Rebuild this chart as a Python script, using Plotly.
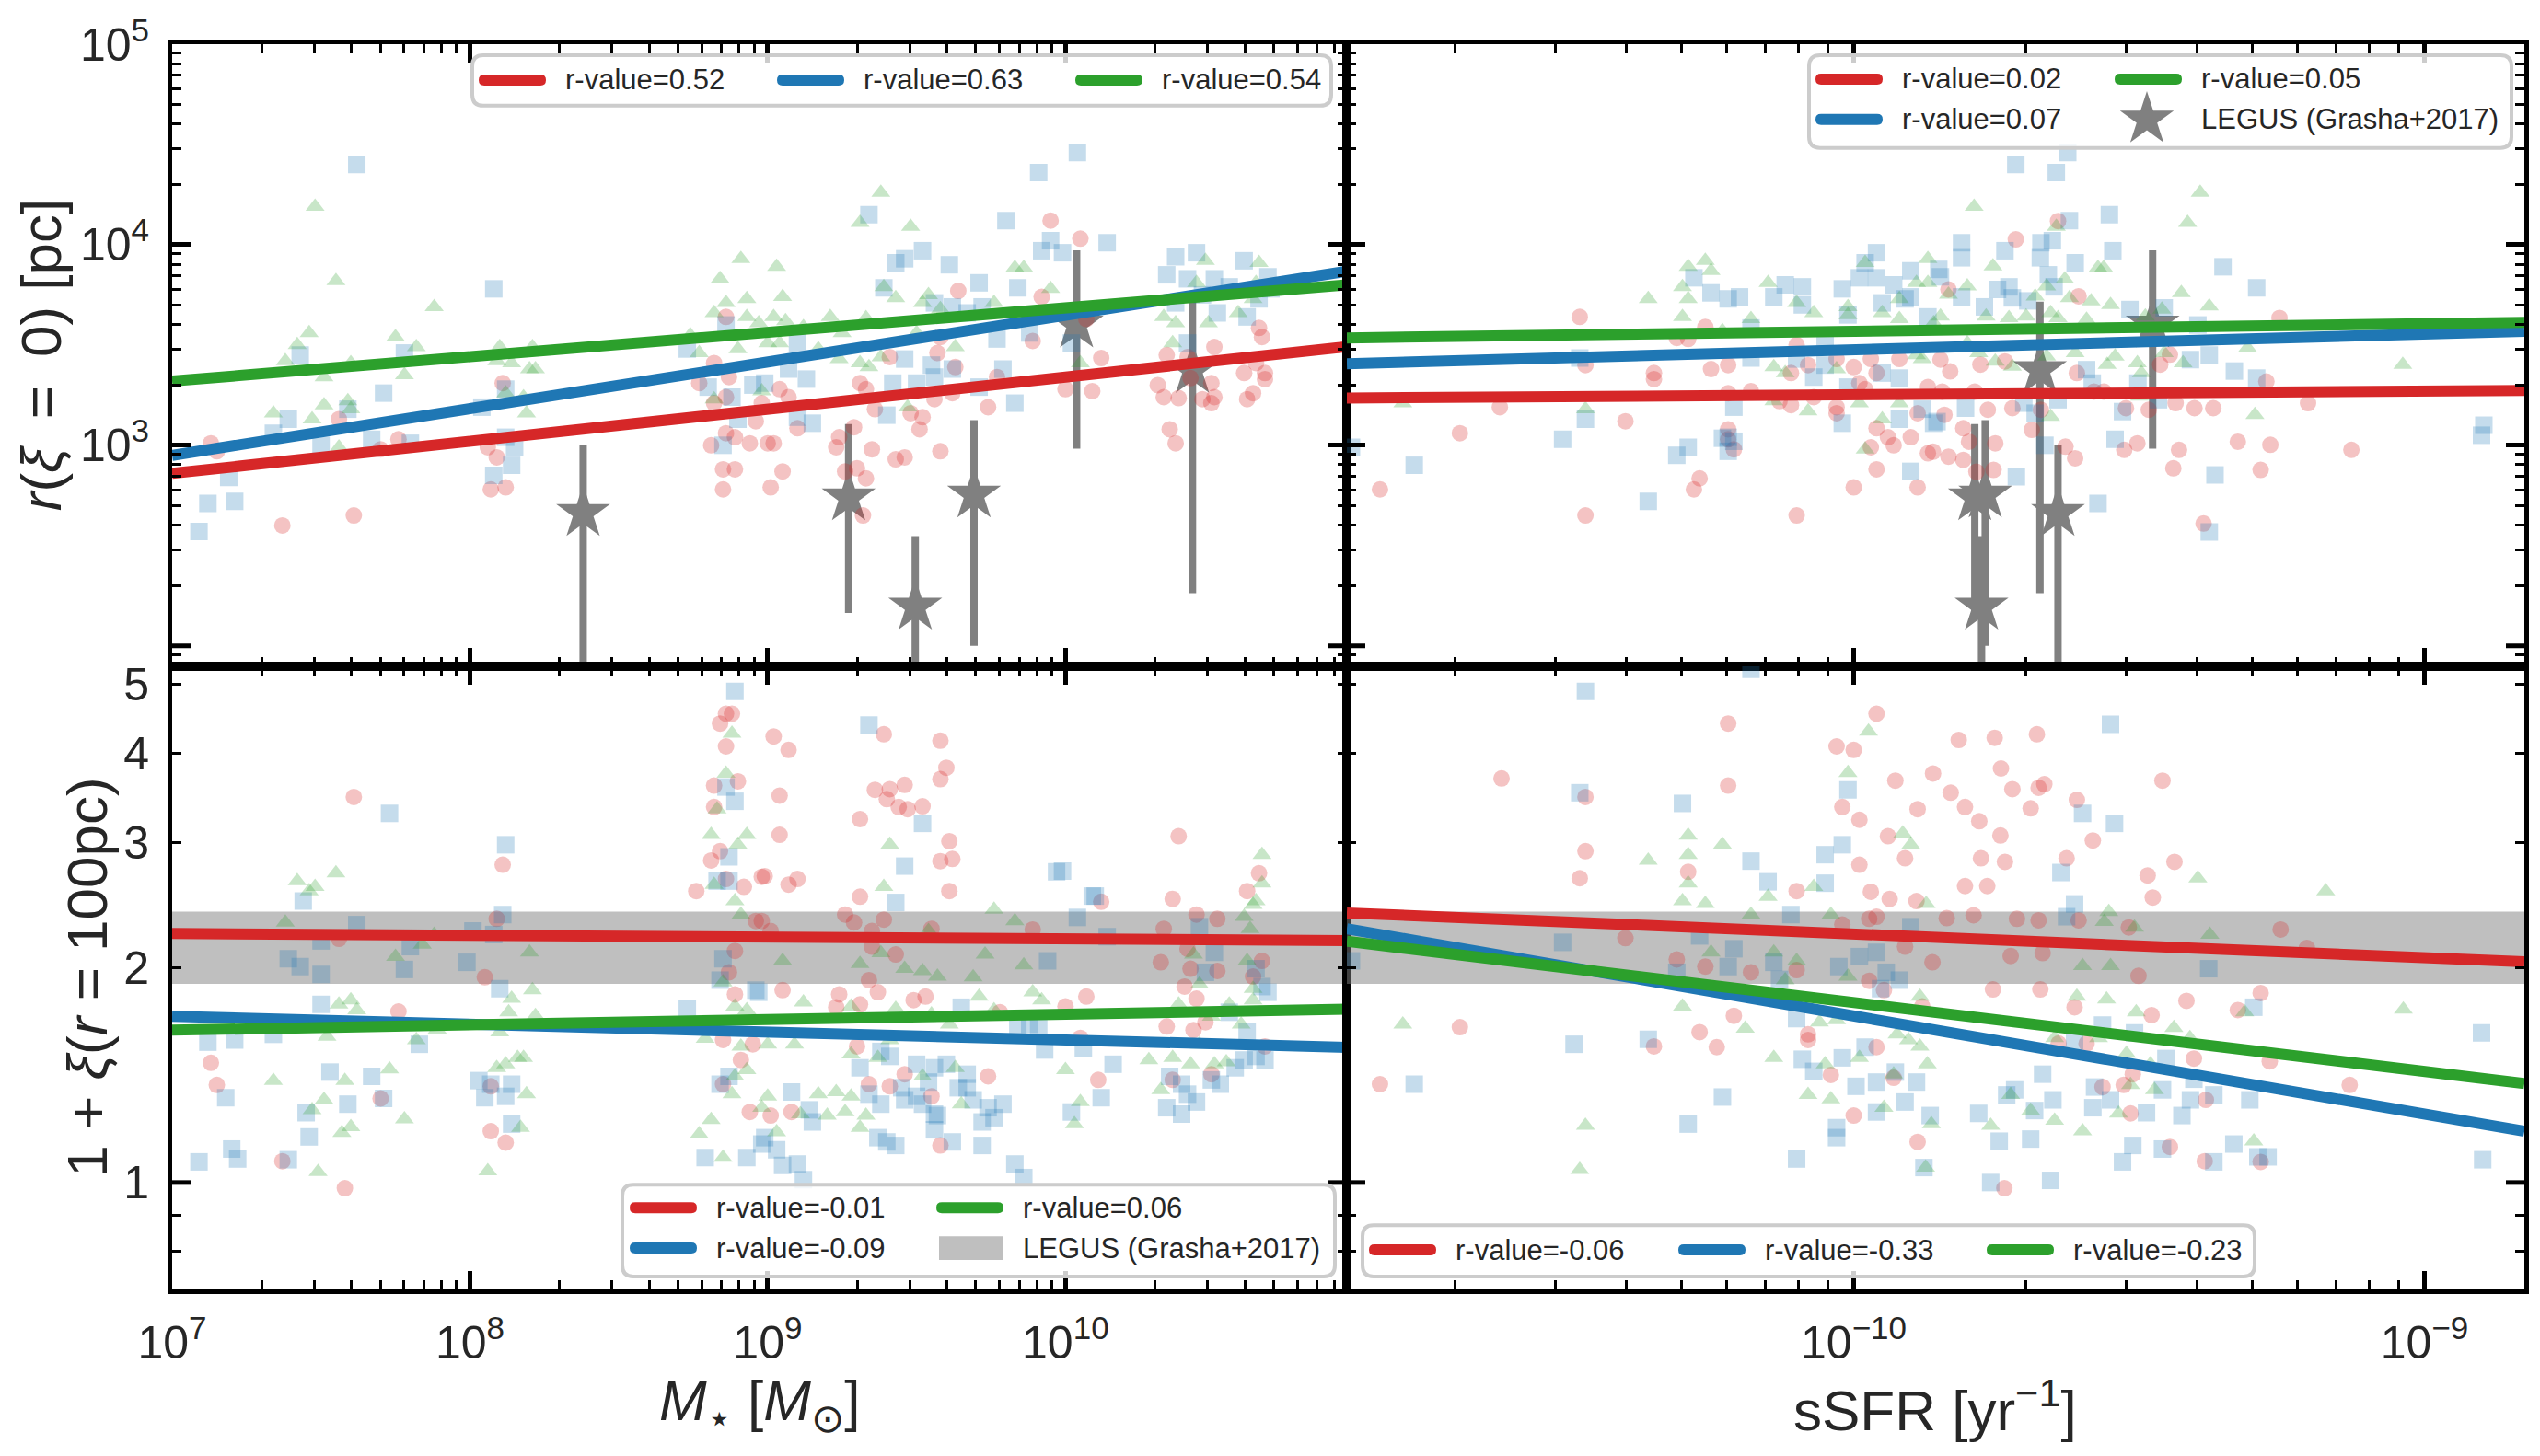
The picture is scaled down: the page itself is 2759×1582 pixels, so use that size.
import plotly.graph_objects as go

# ---------------------------------------------------------------- data
# values are log10 readings taken from the figure
# top-left  : (log10 M*, log10 r(xi=0)/pc)
TL_RED = [(7.13,3.01),(7.15,2.97),(7.37,2.60),(7.61,2.65),(7.56,3.13),(7.76,3.03),(7.70,2.98),(8.11,3.31),(8.06,2.99),(8.09,2.94),
          (8.07,2.78),(8.12,2.79),(8.86,3.64),(8.82,3.41),(8.87,3.34),(8.77,3.31),(8.82,3.21),(8.86,3.24),(8.96,3.12),(8.81,3.00),
          (8.86,3.06),(8.89,3.04),(8.94,3.01),(8.85,2.88),(8.89,2.88),(8.85,2.78),
          (9.64,3.77),(9.95,4.12),(10.05,4.03),(9.92,3.74),(9.89,3.52),(9.58,3.54),(9.57,3.46),(9.63,3.39),(9.62,3.26),(9.56,3.23),
          (9.52,3.14),(9.48,3.16),(9.51,3.08),(9.58,2.97),(9.46,2.94),(9.43,2.93),(9.35,2.98),(9.33,3.28),(9.36,3.18),(9.31,3.31),
          (9.41,3.44),(9.29,3.09),(9.24,3.04),(9.23,2.99),(9.26,2.87),(9.30,2.885),(9.33,2.835),(9.05,2.87),(9.01,2.79),(9.00,3.01),
          (9.02,3.01),(9.10,3.085),(9.04,3.28),(9.07,3.24),(8.98,3.21),(9.32,2.65),(9.74,3.19),(9.77,3.34),(10.00,3.28),(10.09,3.27),
          (10.12,3.435),(10.07,3.63),(10.31,3.30),(10.33,3.24),(10.38,3.235),(10.35,3.08),(10.37,3.01),(10.42,3.335),(10.46,3.23),
          (10.49,3.21),(10.50,3.49),(10.49,3.31),(10.50,3.24),(10.61,3.23),(10.63,3.26),(10.60,3.36),(10.64,3.41),(10.67,3.36),
          (10.65,3.585),(10.66,3.54),(10.67,3.33),(10.34,3.45),(10.41,3.44)]
TL_BLUE = [(7.62,4.40),(8.08,3.78),(7.43,3.45),(7.71,3.26),(7.78,3.46),(7.39,3.13),(7.34,3.06),(7.50,3.00),(7.67,3.03),(7.80,3.01),
           (7.19,2.84),(7.12,2.71),(7.21,2.72),(7.09,2.57),(8.04,3.19),(8.12,3.04),(8.15,2.99),(8.08,2.85),(8.14,2.90),(8.12,3.28),
           (7.59,3.18),(8.73,3.48),(8.86,3.60),(8.85,3.00),(8.90,3.13),(8.80,3.29),(8.95,3.30),(8.88,3.24),
           (10.04,4.46),(9.91,4.36),(9.80,4.12),(9.34,4.15),(10.14,4.01),(9.95,4.02),(9.92,3.97),(9.99,3.96),(9.52,3.97),(9.43,3.91),
           (9.46,3.93),(9.61,3.90),(9.39,3.785),(9.71,3.81),(9.84,3.785),(9.56,3.71),(9.62,3.69),(9.67,3.66),(9.72,3.69),(9.77,3.53),
           (9.88,3.56),(10.02,3.51),(9.10,3.51),(9.07,3.38),(9.13,3.33),(8.99,3.31),(9.46,3.43),(9.55,3.40),(9.62,3.38),(9.56,3.34),
           (9.42,3.31),(9.50,3.31),(9.40,3.15),(9.15,3.11),(9.10,3.14),(9.79,3.38),(9.71,3.29),(9.83,3.21),(10.37,3.94),(10.44,3.96),
           (10.34,3.85),(10.41,3.83),(10.50,3.83),(10.60,3.92),(10.68,3.84),(10.46,3.75),(10.55,3.79),(10.65,3.73),(10.37,3.71),
           (10.51,3.66),(10.41,3.51),(10.61,3.64),(10.69,3.78)]
TL_GREEN = [(7.48,4.19),(7.55,3.82),(7.88,3.69),(7.46,3.56),(7.42,3.50),(7.75,3.54),(7.82,3.49),(7.38,3.42),(7.78,3.35),(7.51,3.34),
            (7.60,3.41),(7.34,3.16),(7.51,3.20),(7.47,3.13),(7.59,3.22),(7.60,3.18),(7.56,2.99),(8.10,3.49),(8.09,3.42),(8.14,3.41),
            (8.20,3.38),(8.21,3.49),(8.22,3.38),(8.12,3.26),(8.18,3.24),(8.19,3.16),(8.91,3.93),(8.84,3.83),(8.86,3.71),(8.93,3.73),
            (8.82,3.66),(8.93,3.64),(8.74,3.55),(8.77,3.46),(8.90,3.48),(8.97,3.61),(8.82,3.23),(8.98,3.27),
            (9.38,4.26),(9.31,4.11),(9.48,4.09),(9.03,3.89),(9.05,3.74),(9.39,3.79),(9.43,3.735),(9.54,3.75),(9.52,3.71),(9.83,3.885),
            (9.86,3.885),(9.95,3.78),(9.02,3.64),(9.06,3.62),(9.12,3.59),(9.21,3.64),(9.25,3.56),(9.33,3.635),(9.00,3.51),(9.04,3.51),
            (9.17,3.48),(9.24,3.43),(9.31,3.41),(9.34,3.39),(9.38,3.44),(9.50,3.56),(9.58,3.68),(9.76,3.71),(9.63,3.49),(9.47,3.19),
            (10.05,3.41),(10.33,3.64),(10.37,3.61),(10.47,3.92),(10.44,3.81),(10.48,3.61),(10.58,3.66),(10.65,3.91),(10.63,3.73),
            (10.36,3.51),(10.42,3.73),(10.64,3.81)]

# top-right : (log10 sSFR, log10 r(xi=0)/pc)
TR_RED = [(-10.83,2.78),(-10.69,3.06),(-10.62,3.19),(-10.48,3.64),(-10.47,3.40),(-10.47,2.65),(-10.40,3.12),(-10.35,3.36),(-10.35,3.33),
          (-10.28,2.78),(-10.27,2.835),(-10.31,3.535),(-10.29,3.53),(-10.26,3.59),(-10.25,3.38),(-10.22,3.40),(-10.22,3.26),(-10.18,3.27),
          (-10.22,3.08),(-10.22,3.03),(-10.21,2.98),(-10.10,3.50),(-10.11,3.36),(-10.08,3.40),(-10.11,3.20),(-10.13,3.22),(-10.07,3.24),
          (-10.10,2.65),(-10.03,3.43),(-10.00,3.39),(-10.03,3.19),(-10.03,3.16),(-9.99,3.31),(-9.98,3.28),(-9.97,3.43),(-9.96,3.085),
          (-9.94,3.04),(-9.93,3.00),(-9.97,2.99),(-9.96,2.88),(-10.00,2.79),(-9.90,3.04),(-9.888,2.79),(-9.888,3.16),(-9.87,2.96),
          (-9.92,3.43),(-9.96,3.36),(-9.87,3.29),
          (-9.642,4.118),(-9.716,4.027),(-9.606,3.743),(-9.834,3.777),(-9.254,3.635),(-9.848,3.427),(-9.831,3.368),(-9.778,3.402),
          (-9.735,3.418),(-9.609,3.36),(-9.845,3.268),(-9.788,3.268),(-9.765,3.177),(-9.722,3.185),(-9.841,3.152),(-9.808,3.085),
          (-9.798,3.018),(-9.752,3.01),(-9.834,2.943),(-9.808,2.927),(-9.861,2.968),(-9.785,2.868),(-9.755,2.877),(-9.688,3.077),
          (-9.672,3.177),(-9.629,2.993),(-9.612,2.935),(-9.579,3.268),(-9.562,3.268),(-9.523,3.185),(-9.503,3.01),(-9.526,2.977),
          (-9.483,3.177),(-9.463,3.402),(-9.446,3.452),(-9.436,3.21),(-9.403,3.185),(-9.37,3.185),(-9.43,2.977),(-9.44,2.885),
          (-9.327,3.018),(-9.27,3.002),(-9.287,2.877),(-9.204,3.21),(-9.128,2.977),(-9.387,2.61),(-9.277,3.318)]
TR_BLUE = [(-10.88,2.99),(-10.77,2.90),(-10.51,3.03),(-10.48,3.435),(-10.47,3.13),(-10.36,2.72),(-10.31,2.95),(-10.29,2.99),(-10.23,3.035),
           (-10.21,3.02),(-10.22,2.97),(-10.21,3.19),(-10.28,3.835),(-10.25,3.76),(-10.22,3.73),(-10.20,3.74),(-10.14,3.74),(-10.12,3.80),
           (-10.09,3.79),(-10.09,3.70),(-10.18,3.435),(-10.18,3.585),(-10.10,3.43),(-10.07,3.34),(-10.05,3.40),(-10.02,3.78),(-10.01,3.65),
           (-9.99,3.835),(-9.98,3.91),(-9.96,3.96),(-9.96,3.835),(-9.95,3.71),(-9.93,3.80),(-9.90,3.74),(-9.90,3.87),(-9.91,3.73),
           (-9.87,3.64),(-10.02,3.11),(-10.01,3.29),(-9.95,3.36),(-9.92,3.335),(-9.92,3.13),(-9.90,2.87),(-9.88,3.18),(-9.86,3.11),
           (-10.05,3.50),(-10.22,3.04),
           (-9.716,4.40),(-9.645,4.36),(-9.625,4.46),(-9.552,4.15),(-9.622,4.12),(-9.546,3.97),(-9.811,4.01),(-9.811,3.935),(-9.735,3.97),
           (-9.672,4.01),(-9.673,3.935),(-9.652,4.02),(-9.612,3.91),(-9.851,3.877),(-9.848,3.84),(-9.811,3.74),(-9.748,3.777),(-9.728,3.79),
           (-9.722,3.735),(-9.771,3.69),(-9.695,3.72),(-9.659,3.85),(-9.649,3.79),(-9.353,3.89),(-9.294,3.785),(-9.516,3.677),(-9.456,3.685),
           (-9.397,3.60),(-9.377,3.45),(-9.41,3.427),(-9.333,3.37),(-9.294,3.335),(-9.592,3.377),(-9.582,3.31),(-9.502,3.31),(-9.466,3.227),
           (-9.529,3.168),(-9.542,3.03),(-9.804,3.185),(-9.854,3.118),(-9.715,2.843),(-9.572,2.71),(-9.367,2.852),(-9.377,2.568),
           (-8.896,3.10),(-8.90,3.05),(-9.665,3.00),(-9.702,3.21),(-9.682,3.16),(-9.642,3.227)]
TR_GREEN = [(-10.79,3.21),(-10.47,3.18),(-10.36,3.73),(-10.29,3.89),(-10.26,3.92),(-10.25,3.87),(-10.30,3.79),(-10.29,3.73),(-10.30,3.64),
            (-10.23,3.57),(-10.18,3.63),(-10.15,3.81),(-10.14,3.39),(-10.12,3.36),(-10.10,3.71),(-10.07,3.66),(-10.08,3.17),(-10.14,3.22),
            (-10.01,3.69),(-10.01,3.65),(-10.03,3.38),(-9.98,3.91),(-9.99,3.21),(-9.95,3.66),(-9.92,3.73),(-9.92,3.63),(-9.89,3.81),
            (-9.87,3.93),(-9.89,3.45),(-9.88,3.43),(-9.98,2.98),(-9.95,3.13),(-9.92,3.21),(-9.87,3.81),(-9.86,3.61),
            (-9.789,4.19),(-9.393,4.26),(-9.415,4.11),(-9.756,3.893),(-9.645,4.09),(-9.572,3.885),(-9.562,3.885),(-9.63,3.827),(-9.682,3.743),
            (-9.662,3.793),(-9.622,3.735),(-9.584,3.718),(-9.55,3.70),(-9.426,3.76),(-9.377,3.693),(-9.834,3.752),(-9.801,3.793),
            (-9.848,3.643),(-9.768,3.643),(-9.728,3.635),(-9.698,3.643),(-9.655,3.66),(-9.642,3.635),(-9.592,3.627),(-9.489,3.643),
            (-9.46,3.677),(-9.781,3.46),(-9.752,3.418),(-9.722,3.393),(-9.662,3.443),(-9.612,3.46),(-9.556,3.402),(-9.503,3.41),
            (-9.496,3.36),(-9.456,3.46),(-9.423,3.41),(-9.31,3.485),(-9.038,3.402),(-9.297,3.152),(-9.655,3.143),(-9.499,3.243),
            (-9.801,3.51),(-9.542,3.443)]

# bottom-left : (log10 M*, log10 (1+xi(r=100pc)))
BL_RED = [(7.61,0.541),(8.11,0.446),(8.09,0.370),(8.05,0.288),(7.76,0.240),(7.56,0.342),(7.13,0.168),(7.15,0.137),(7.37,0.030),
          (7.58,-0.008),(7.70,0.118),(8.07,0.135),(8.07,0.072),(8.12,0.056),(8.86,0.658),(8.84,0.644),(8.88,0.658),(8.86,0.612),
          (8.82,0.557),(8.90,0.563),(8.82,0.527),(8.84,0.465),(8.81,0.452),(8.76,0.409),(8.86,0.426),(8.92,0.415),(8.98,0.429),
          (8.96,0.367),(8.89,0.325),(8.87,0.295),(8.89,0.264),(8.85,0.200),(8.95,0.194),(8.91,0.172),(8.85,0.138),(8.94,0.099),
          (9.02,0.626),(9.07,0.607),(9.39,0.629),(9.58,0.620),(9.04,0.543),(9.60,0.582),(9.58,0.566),(9.36,0.551),(9.41,0.552),
          (9.46,0.558),(9.40,0.538),(9.44,0.527),(9.47,0.524),(9.52,0.528),(9.31,0.510),(9.04,0.488),(9.61,0.479),(9.58,0.451),
          (9.62,0.454),(9.61,0.409),(8.99,0.43),(9.07,0.418),(9.10,0.426),(9.31,0.401),(9.26,0.376),(9.29,0.365),(9.39,0.369),
          (9.35,0.353),(9.55,0.356),(8.98,0.367),(9.01,0.353),(9.35,0.331),(9.43,0.32),(9.34,0.284),(9.37,0.267),(9.24,0.264),
          (9.53,0.261),(9.49,0.256),(9.05,0.27),(9.31,0.25),(9.23,0.246),(9.30,0.191),(9.46,0.152),(9.55,0.121),(9.34,0.138),
          (9.41,0.135),(9.58,0.052),(9.08,0.099),(9.01,0.094),(9.74,0.149),(9.89,0.355),(10.07,0.261),(10.00,0.247),(10.05,0.203),
          (10.11,0.144),(9.78,0.239),(10.12,0.394),(10.38,0.486),(10.36,0.398),(10.33,0.356),(10.32,0.309),(10.44,0.376),(10.51,0.37),
          (10.41,0.328),(10.40,0.275),(10.42,0.3),(10.44,0.258),(10.51,0.297),(10.34,0.219),(10.43,0.214),(10.47,0.225),(10.61,0.409),
          (10.65,0.434),(10.66,0.311),(10.63,0.289),(10.67,0.191),(10.36,0.144),(10.49,0.152)]
BL_BLUE = [(7.73,0.518),(8.12,0.474),(7.44,0.395),(8.11,0.376),(7.62,0.362),(7.50,0.339),(7.39,0.314),(7.43,0.303),(7.50,0.292),
           (7.80,0.331),(7.78,0.299),(7.99,0.309),(8.01,0.353),(8.08,0.348),(8.10,0.272),(7.50,0.25),(7.12,0.197),(7.21,0.200),
           (7.34,0.208),(7.83,0.194),(7.53,0.155),(7.67,0.149),(7.18,0.119),(7.59,0.110),(7.45,0.098),(7.71,0.118),(7.46,0.064),
           (7.20,0.047),(7.22,0.033),(7.09,0.029),(7.39,0.032),(8.03,0.143),(8.07,0.138),(8.05,0.119),(8.12,0.121),(8.14,0.138),
           (8.14,0.082),(8.89,0.689),(8.86,0.555),(8.89,0.535),(8.87,0.457),(8.83,0.423),(8.87,0.423),(8.85,0.314),(8.84,0.284),
           (8.73,0.244),(8.96,0.27),(8.84,0.138),(8.87,0.149),(8.79,0.035),(8.93,0.035),(8.98,0.054),
           (9.34,0.642),(9.52,0.504),(9.46,0.444),(9.43,0.393),(9.97,0.436),(9.99,0.437),(10.09,0.402),(10.04,0.372),(10.14,0.345),
           (9.94,0.311),(8.97,0.267),(9.65,0.246),(9.38,0.184),(9.41,0.177),(9.50,0.166),(9.56,0.161),(9.60,0.166),(9.31,0.161),
           (9.08,0.127),(9.14,0.102),(9.15,0.085),(9.34,0.124),(9.38,0.11),(9.45,0.133),(9.46,0.116),(9.50,0.121),(9.52,0.11),
           (9.56,0.096),(9.54,0.141),(9.64,0.133),(9.67,0.133),(9.69,0.116),(9.74,0.105),(9.76,0.091),(9.79,0.11),(9.72,0.085),
           (9.67,0.152),(9.56,0.074),(9.40,0.057),(9.43,0.052),(9.37,0.063),(9.57,0.094),(9.62,0.057),(9.72,0.052),(8.99,0.063),
           (9.03,0.046),(9.05,0.024),(9.10,0.026),(9.12,0.004),(9.83,0.026),(9.86,0.007),(10.02,0.099),(10.12,0.119),(10.16,0.166),
           (9.93,0.186),(10.06,0.189),(9.84,0.219),(9.88,0.222),(9.91,0.219),(10.10,0.402),(10.45,0.359),(10.50,0.323),(10.47,0.295),
           (10.64,0.3),(10.68,0.267),(10.66,0.275),(10.35,0.149),(10.39,0.138),(10.41,0.124),(10.44,0.113),(10.34,0.105),(10.39,0.096),
           (10.49,0.144),(10.52,0.138),(10.57,0.161),(10.60,0.172),(10.64,0.177),(10.67,0.172),(10.55,0.239),(10.61,0.211)]
BL_GREEN = [(7.42,0.423),(7.46,0.409),(7.48,0.415),(7.55,0.434),(7.38,0.365),(7.75,0.317),(7.84,0.334),(7.88,0.348),(8.20,0.323),
            (8.21,0.27),(8.14,0.258),(8.13,0.239),(8.10,0.211),(8.22,0.234),(7.56,0.25),(7.60,0.256),(7.62,0.242),(7.52,0.205),
            (7.82,0.2),(7.89,0.215),(7.34,0.143),(7.58,0.143),(7.73,0.159),(7.51,0.116),(7.47,0.102),(7.78,0.089),(7.60,0.078),
            (7.57,0.07),(7.49,0.015),(8.06,0.016),(8.09,0.161),(8.12,0.166),(8.16,0.175),(8.18,0.175),(8.19,0.124),(8.17,0.077),
            (8.88,0.63),(8.86,0.574),(8.83,0.524),(8.81,0.488),(8.93,0.488),(8.90,0.474),(8.82,0.418),(8.89,0.395),(8.91,0.376),
            (8.85,0.281),(8.89,0.247),(8.93,0.242),(8.91,0.191),(8.79,0.202),(8.93,0.158),(8.89,0.149),(8.88,0.124),(8.81,0.088),
            (8.77,0.068),(8.85,0.035),
            (9.41,0.474),(9.39,0.415),(9.76,0.383),(9.83,0.367),(9.86,0.305),(9.73,0.32),(9.54,0.353),(9.31,0.307),(9.46,0.3),
            (9.52,0.297),(9.57,0.289),(9.69,0.288),(9.38,0.322),(9.05,0.311),(9.12,0.253),(9.28,0.247),(9.43,0.244),(9.55,0.236),
            (9.71,0.261),(9.89,0.267),(9.92,0.256),(9.76,0.242),(9.61,0.222),(9.00,0.194),(9.09,0.194),(9.28,0.18),(9.37,0.175),
            (9.41,0.2),(9.63,0.161),(9.52,0.149),(9.00,0.121),(9.17,0.124),(9.23,0.127),(9.28,0.121),(9.11,0.096),(9.20,0.094),
            (9.26,0.099),(9.33,0.094),(9.31,0.077),(9.03,0.071),(8.98,0.105),(9.65,0.11),(10.00,0.158),(10.05,0.113),(10.03,0.082),
            (10.38,0.25),(10.43,0.32),(10.45,0.278),(10.49,0.233),(10.55,0.25),(10.60,0.373),(10.63,0.39),(10.64,0.395),(10.66,0.42),
            (10.66,0.46),(10.62,0.356),(10.61,0.311),(10.63,0.272),(10.28,0.172),(10.32,0.13),(10.36,0.175),(10.42,0.166),(10.45,0.194),
            (10.50,0.166),(10.54,0.169),(10.59,0.222),(10.63,0.256)]

# bottom-right : (log10 sSFR, log10 (1+xi(r=100pc)))
BR_RED = [(-10.617,0.567),(-10.69,0.218),(-10.83,0.138),(-10.47,0.541),(-10.47,0.465),(-10.48,0.427),(-10.40,0.343),(-10.35,0.191),
          (-10.29,0.436),(-10.31,0.313),(-10.26,0.303),(-10.27,0.211),(-10.24,0.19),(-10.22,0.644),(-10.22,0.557),(-10.21,0.234),
          (-10.18,0.295),(-10.10,0.409),(-10.10,0.298),(-10.08,0.208),(-10.08,0.2),(-10.04,0.151),(-10.00,0.094),(-10.03,0.612),
          (-10.00,0.607),(-10.02,0.527),(-9.99,0.509),(-9.99,0.446),(-9.97,0.408),(-9.96,0.658),(-9.94,0.486),(-9.927,0.564),
          (-9.91,0.455),(-9.888,0.524),(-9.937,0.398),(-9.973,0.37),(-9.96,0.373),(-9.89,0.395),(-9.91,0.331),(-10.02,0.362),
          (-9.973,0.283),(-9.96,0.19),(-9.93,0.147),(-9.888,0.057),(-9.862,0.309),(-9.861,0.574),(-9.88,0.247),(-9.947,0.27),
          (-9.816,0.621),(-9.753,0.624),(-9.679,0.629),(-9.742,0.581),(-9.83,0.547),(-9.805,0.527),(-9.78,0.507),(-9.722,0.552),
          (-9.666,0.559),(-9.676,0.554),(-9.609,0.537),(-9.69,0.525),(-9.743,0.487),(-9.581,0.48),(-9.459,0.564),(-9.777,0.455),
          (-9.735,0.45),(-9.627,0.455),(-9.438,0.45),(-9.485,0.431),(-9.476,0.40),(-9.805,0.416),(-9.766,0.416),(-9.837,0.371),
          (-9.79,0.375),(-9.714,0.37),(-9.676,0.368),(-9.606,0.368),(-9.518,0.358),(-9.252,0.355),(-9.206,0.329),(-9.725,0.318),
          (-9.669,0.322),(-9.501,0.29),(-9.417,0.255),(-9.287,0.266),(-9.327,0.242),(-9.756,0.271),(-9.673,0.271),(-9.613,0.246),
          (-9.478,0.235),(-9.404,0.174),(-9.271,0.17),(-9.131,0.137),(-9.564,0.134),(-9.527,0.137),(-9.515,0.097),(-9.446,0.05),
          (-9.385,0.03),(-9.736,-0.008),(-9.592,0.195),(-9.511,0.152),(-9.383,0.116),(-9.287,0.029),(-9.641,0.195)]
BR_BLUE = [(-10.47,0.689),(-10.48,0.547),(-10.30,0.532),(-10.18,0.451),(-10.15,0.422),(-10.05,0.46),(-10.05,0.42),(-10.01,0.551),
           (-10.02,0.474),(-10.11,0.376),(-10.51,0.337),(-10.49,0.194),(-10.36,0.201),(-10.23,0.12),(-10.29,0.082),(-10.10,0.033),
           (-10.09,0.173),(-10.07,0.156),(-10.03,0.077),(-10.03,0.063),(-10.02,0.175),(-9.98,0.19),(-9.996,0.135),(-9.96,0.141),
           (-9.927,0.155),(-9.91,0.113),(-9.96,0.099),(-9.877,0.021),(-9.866,0.094),(-10.026,0.303),(-9.99,0.317),(-9.96,0.323),
           (-9.943,0.295),(-9.953,0.272),(-9.92,0.284),(-9.90,0.359),(-10.27,0.346),(-10.21,0.328),(-10.22,0.303),(-10.14,0.309),
           (-10.10,0.23),(-10.13,0.285),(-9.89,0.141),(-10.77,0.138),(-10.88,0.311),(-10.31,0.295),(-10.18,0.72),
           (-9.55,0.643),(-9.599,0.518),(-9.543,0.504),(-9.637,0.435),(-9.613,0.391),(-9.627,0.373),(-9.378,0.30),(-9.299,0.246),
           (-8.90,0.21),(-8.898,0.032),(-9.306,0.116),(-9.41,0.116),(-9.334,0.054),(-9.292,0.036),(-9.274,0.036),(-9.369,0.029),
           (-9.459,0.047),(-9.511,0.052),(-9.529,0.029),(-9.655,0.003),(-9.578,0.134),(-9.459,0.13),(-9.487,0.098),(-9.55,0.116),
           (-9.651,0.116),(-9.669,0.152),(-9.718,0.13),(-9.732,0.123),(-9.683,0.101),(-9.781,0.097),(-9.745,0.058),(-9.69,0.061),
           (-9.76,0.0),(-9.508,0.21),(-9.564,0.221),(-9.453,0.174),(-9.404,0.145),(-9.369,0.123),(-9.613,0.199),(-9.425,0.094),
           (-9.581,0.105)]
BR_GREEN = [(-10.79,0.222),(-10.48,0.018),(-10.47,0.080),(-10.36,0.452),(-10.29,0.487),(-10.29,0.46),(-10.29,0.42),(-10.30,0.395),
            (-10.26,0.391),(-10.23,0.474),(-10.18,0.376),(-10.15,0.401),(-10.07,0.415),(-10.04,0.376),(-10.01,0.575),(-9.974,0.633),
            (-9.914,0.49),(-9.90,0.474),(-9.873,0.391),(-10.25,0.323),(-10.14,0.323),(-10.10,0.311),(-10.01,0.289),(-10.30,0.247),
            (-10.19,0.216),(-10.06,0.225),(-10.03,0.228),(-10.14,0.175),(-10.05,0.166),(-9.99,0.175),(-10.08,0.123),(-10.04,0.117),
            (-9.947,0.105),(-9.93,0.152),(-9.904,0.2),(-9.884,0.191),(-9.871,0.166),(-9.864,0.082),(-9.874,0.021),(-9.924,0.208),
            (-10.12,0.284),(-9.884,0.261),
            (-9.397,0.427),(-9.376,0.348),(-9.553,0.38),(-9.561,0.366),(-9.508,0.358),(-9.55,0.304),(-9.599,0.304),(-9.609,0.261),
            (-9.557,0.257),(-9.505,0.239),(-9.439,0.217),(-9.315,0.239),(-9.173,0.409),(-9.037,0.243),(-9.299,0.058),(-9.522,0.181),
            (-9.48,0.166),(-9.515,0.137),(-9.536,0.097),(-9.599,0.072),(-9.69,0.101),(-9.648,0.087),(-9.725,0.123),(-9.76,0.08),
            (-9.473,0.13),(-9.571,0.203),(-9.648,0.203),(-9.411,0.203)]

# LEGUS (Grasha+2017) galaxies
legus_mass = [2.4e8, 1.87e9, 3.13e9, 4.93e9, 1.09e10, 2.67e10]
legus_ssfr = [2.28e-10, 1.63e-10, 1.675e-10, 1.70e-10, 3.34e-10, 2.12e-10]
legus_r0 = [460, 550, 157, 568, 4000, 2375]
legus_r0_low = [30, 146, 30, 100, 962, 183]
legus_r0_high = [1000, 1275, 352, 1334, 9380, 5200]
legus_band = [1.9, 2.4]   # 1+xi(100pc) range

# linear fits (values at the two ends of each x-range)
mass_ends = [1e7, 10 ** 10.945]
ssfr_ends = [10 ** -10.888, 10 ** -8.825]
fit_tl = {'red': [724, 3100], 'blue': [891, 7380], 'green': [2090, 6310]}
fit_tr = {'red': [1720, 1877], 'blue': [2550, 3700], 'green': [3430, 4100]}
fit_bl = {'red': [2.236, 2.185], 'blue': [1.711, 1.548], 'green': [1.636, 1.751]}
fit_br = {'red': [2.39, 2.04], 'blue': [2.27, 1.18], 'green': [2.18, 1.377]}
rval_tl = {'red': 'r-value=0.52', 'blue': 'r-value=0.63', 'green': 'r-value=0.54'}
rval_tr = {'red': 'r-value=0.02', 'blue': 'r-value=0.07', 'green': 'r-value=0.05'}
rval_bl = {'red': 'r-value=-0.01', 'blue': 'r-value=-0.09', 'green': 'r-value=0.06'}
rval_br = {'red': 'r-value=-0.06', 'blue': 'r-value=-0.33', 'green': 'r-value=-0.23'}
LEGUS_LABEL = 'LEGUS (Grasha+2017)'

# ---------------------------------------------------------------- style / geometry
W, H = 2759, 1582
L, R, T, B = 187, 17, 45, 181
PW, PH = W - L - R, H - T - B
FONT = 'Liberation Sans, Arial, Helvetica, DejaVu Sans, sans-serif'
TXT = '#262626'
COL = {'red': '#d62728', 'blue': '#1f77b4', 'green': '#2ca02c'}
PTS = {'red': 'rgba(214,39,40,0.28)', 'blue': 'rgba(31,119,180,0.26)', 'green': 'rgba(44,160,44,0.26)'}
SYM = {'red': 'circle', 'blue': 'square', 'green': 'triangle-up'}
SIZE = {'red': 18, 'blue': 19, 'green': 18}
GREY = '#808080'
EN = '\u2002'


def px(x):
    return (x - L) / PW


def py(y):
    return 1 - (y - T) / PH


XSPLIT = px(1463)
YSPLIT = py(722)
MASS_RANGE = [7.0, 10.945]
SSFR_RANGE = [-10.888, -8.825]
R0_RANGE = [1.9, 5.0]
XI_RANGE = [-0.15, 0.725]

fig = go.Figure()

panels = {
    'tl': ('x', 'y', TL_RED, TL_BLUE, TL_GREEN, mass_ends, fit_tl),
    'tr': ('x2', 'y2', TR_RED, TR_BLUE, TR_GREEN, ssfr_ends, fit_tr),
    'bl': ('x3', 'y3', BL_RED, BL_BLUE, BL_GREEN, mass_ends, fit_bl),
    'br': ('x4', 'y4', BR_RED, BR_BLUE, BR_GREEN, ssfr_ends, fit_br),
}

# LEGUS band (bottom panels)
for key in ('bl', 'br'):
    xa, ya = panels[key][0], panels[key][1]
    ends = panels[key][5]
    fig.add_trace(go.Scatter(
        x=[ends[0], ends[1], ends[1], ends[0], ends[0]],
        y=[legus_band[0], legus_band[0], legus_band[1], legus_band[1], legus_band[0]],
        mode='lines', fill='toself', fillcolor='rgba(128,128,128,0.5)', line=dict(width=0),
        xaxis=xa, yaxis=ya, showlegend=False, hoverinfo='skip', name=LEGUS_LABEL))

# LEGUS stars with error bars (top panels)
plus = [h - v for h, v in zip(legus_r0_high, legus_r0)]
minus = [v - lo for v, lo in zip(legus_r0, legus_r0_low)]
for xa, ya, xs in (('x', 'y', legus_mass), ('x2', 'y2', legus_ssfr)):
    fig.add_trace(go.Scatter(
        x=xs, y=legus_r0, mode='markers', xaxis=xa, yaxis=ya, showlegend=False, name=LEGUS_LABEL,
        marker=dict(symbol='star', size=44, color=GREY, line=dict(width=0)),
        error_y=dict(type='data', array=plus, arrayminus=minus, color=GREY, thickness=8, width=0)))

# scatter points
for key, (xa, ya, red, blue, green, ends, fits) in panels.items():
    for cname, data in (('red', red), ('blue', blue), ('green', green)):
        fig.add_trace(go.Scatter(
            x=[10 ** p[0] for p in data], y=[10 ** p[1] for p in data], mode='markers',
            xaxis=xa, yaxis=ya, showlegend=False, hoverinfo='skip',
            marker=dict(symbol=SYM[cname], size=SIZE[cname], color=PTS[cname], line=dict(width=0))))

# fit lines
for key, (xa, ya, red, blue, green, ends, fits) in panels.items():
    for cname in ('red', 'blue', 'green'):
        fig.add_trace(go.Scatter(
            x=ends, y=fits[cname], mode='lines', xaxis=xa, yaxis=ya, showlegend=False,
            line=dict(color=COL[cname], width=12)))


# ---------------------------------------------------------------- axes
def minor_vals(e0, e1, lo, hi):
    return [m * 10.0 ** e for e in range(e0, e1) for m in range(2, 10) if lo < m * 10.0 ** e < hi]


def pow_text(e):
    s = str(e).replace('-', '\u2212')
    return '10<sup>%s</sup>' % s


def axis(**kw):
    d = dict(type='log', showline=True, linewidth=5, linecolor='black', mirror='allticks',
             ticks='inside', ticklen=20, tickwidth=5, tickcolor='black', showgrid=False, zeroline=False,
             tickmode='array', tickfont=dict(family=FONT, size=50, color=TXT), ticklabelstandoff=10)
    d.update(kw)
    return d


def minor(vals):
    return dict(tickmode='array', tickvals=vals, ticks='inside', ticklen=10, tickwidth=3,
                tickcolor='black', showgrid=False)


mass_major = [1e7, 1e8, 1e9, 1e10]
mass_minor = minor_vals(7, 11, 10 ** MASS_RANGE[0], 10 ** MASS_RANGE[1])
ssfr_major = [1e-10, 1e-9]
ssfr_minor = minor_vals(-11, -9, 10 ** SSFR_RANGE[0], 10 ** SSFR_RANGE[1])
r0_major = [1e3, 1e4, 1e5]
r0_text = [pow_text(3), pow_text(4), pow_text(5)]
r0_minor = minor_vals(1, 5, 10 ** R0_RANGE[0], 10 ** R0_RANGE[1])
xi_vals = [1, 2, 3, 4, 5]
xi_minor = [0.8, 0.9]

fig.update_layout(
    width=W, height=H, margin=dict(l=L, r=R, t=T, b=B),
    plot_bgcolor='white', paper_bgcolor='white', showlegend=False,
    font=dict(family=FONT, color=TXT),
    xaxis=axis(domain=[0, XSPLIT], range=MASS_RANGE, anchor='y', tickvals=mass_major,
               ticktext=[pow_text(e) for e in (7, 8, 9, 10)], showticklabels=False, minor=minor(mass_minor)),
    yaxis=axis(domain=[YSPLIT, 1], range=R0_RANGE, anchor='x', tickvals=r0_major, ticktext=r0_text,
               minor=minor(r0_minor)),
    xaxis2=axis(domain=[XSPLIT, 1], range=SSFR_RANGE, anchor='y2', tickvals=ssfr_major,
                ticktext=[pow_text(-10), pow_text(-9)], showticklabels=False, minor=minor(ssfr_minor)),
    yaxis2=axis(domain=[YSPLIT, 1], range=R0_RANGE, anchor='x2', tickvals=r0_major, ticktext=r0_text,
                showticklabels=False, minor=minor(r0_minor)),
    xaxis3=axis(domain=[0, XSPLIT], range=MASS_RANGE, anchor='y3', tickvals=mass_major,
                ticktext=[pow_text(e) for e in (7, 8, 9, 10)], minor=minor(mass_minor)),
    yaxis3=axis(domain=[0, YSPLIT], range=XI_RANGE, anchor='x3', tickvals=xi_vals,
                ticktext=[str(v) for v in xi_vals], ticklen=10, tickwidth=3, minor=minor(xi_minor)),
    xaxis4=axis(domain=[XSPLIT, 1], range=SSFR_RANGE, anchor='y4', tickvals=ssfr_major,
                ticktext=[pow_text(-10), pow_text(-9)], minor=minor(ssfr_minor)),
    yaxis4=axis(domain=[0, YSPLIT], range=XI_RANGE, anchor='x4', tickvals=xi_vals,
                ticktext=[str(v) for v in xi_vals], ticklen=10, tickwidth=3, showticklabels=False,
                minor=minor(xi_minor)),
)

shapes = []
# long unlabeled major ticks: 10^2 pc (top row) and 1+xi = 1 (bottom row)
for yr_pair, yval in ((('y', 'y2'), 100), (('y3', 'y4'), 1)):
    for x0, x1, yr in ((187, 207, yr_pair[0]), (1463, 1443, yr_pair[0]), (1463, 1483, yr_pair[1]), (2742, 2722, yr_pair[1])):
        shapes.append(dict(type='line', xref='paper', yref=yr, x0=px(x0), x1=px(x1), y0=yval, y1=yval,
                           line=dict(color='black', width=5), layer='above'))


# ---------------------------------------------------------------- legends (drawn)
def rrect(x0, y0, x1, y1, r):
    X, Y = px, py
    return ('M{},{} L{},{} Q{},{} {},{} L{},{} Q{},{} {},{} L{},{} Q{},{} {},{} L{},{} Q{},{} {},{} Z'.format(
        X(x0 + r), Y(y0), X(x1 - r), Y(y0), X(x1), Y(y0), X(x1), Y(y0 + r),
        X(x1), Y(y1 - r), X(x1), Y(y1), X(x1 - r), Y(y1),
        X(x0 + r), Y(y1), X(x0), Y(y1), X(x0), Y(y1 - r),
        X(x0), Y(y0 + r), X(x0), Y(y0), X(x0 + r), Y(y0)))


def star_path(cx, cy, size):
    rs = 0.7 * size
    pts = [(0.225, -0.309), (0.951, -0.309), (0.363, 0.118), (0.588, 0.809), (0.0, 0.382),
           (-0.588, 0.809), (-0.363, 0.118), (-0.951, -0.309), (-0.225, -0.309), (0.0, -1.0)]
    s = ' '.join(('M' if i == 0 else 'L') + '{},{}'.format(px(cx + a * rs), py(cy + b * rs))
                 for i, (a, b) in enumerate(pts))
    return s + ' Z'


annotations = []


def legend_box(x0, y0, x1, y1):
    shapes.append(dict(type='path', xref='paper', yref='paper', path=rrect(x0, y0, x1, y1, 12),
                       fillcolor='rgba(255,255,255,0.8)', line=dict(color='#cccccc', width=4), layer='above'))


def legend_text(x, y, text):
    annotations.append(dict(xref='paper', yref='paper', x=px(x), y=py(y), text=text, showarrow=False,
                            xanchor='left', yanchor='middle', font=dict(family=FONT, size=31, color=TXT)))


def legend_line(x, y, cname, text):
    shapes.append(dict(type='path', xref='paper', yref='paper', path=rrect(x, y - 6, x + 73, y + 6, 6),
                       fillcolor=COL[cname], line=dict(width=0), layer='above'))
    legend_text(x + 92, y, text)


# top-left
legend_box(513, 57, 1446, 112)
for xs, c in zip((520, 844, 1168), ('red', 'blue', 'green')):
    legend_line(xs, 84, c, rval_tl[c])
# top-right
legend_box(1965, 57, 2728, 158)
legend_line(1972, 83, 'red', rval_tr['red'])
legend_line(2297, 83, 'green', rval_tr['green'])
legend_line(1972, 127, 'blue', rval_tr['blue'])
shapes.append(dict(type='path', xref='paper', yref='paper', path=star_path(2332, 127, 44),
                   fillcolor=GREY, line=dict(width=0), layer='above'))
legend_text(2389, 127, LEGUS_LABEL)
# bottom-left
legend_box(676, 1287, 1450, 1387)
legend_line(684, 1312, 'red', rval_bl['red'])
legend_line(1017, 1312, 'green', rval_bl['green'])
legend_line(684, 1356, 'blue', rval_bl['blue'])
shapes.append(dict(type='rect', xref='paper', yref='paper', x0=px(1020), x1=px(1089), y0=py(1343), y1=py(1369),
                   fillcolor='rgba(128,128,128,0.5)', line=dict(width=0), layer='above'))
legend_text(1109, 1356, LEGUS_LABEL)
# bottom-right
legend_box(1480, 1331, 2449, 1387)
for xs, c in zip((1487, 1823, 2158), ('red', 'blue', 'green')):
    legend_line(xs, 1358, c, rval_br[c])

# ---------------------------------------------------------------- axis titles
TITLE = dict(family=FONT, size=62, color=TXT)
annotations += [
    dict(xref='paper', yref='paper', x=px(44), y=py(383),
         text='<i>r</i>(<i>\u03be</i>' + EN + '=' + EN + '0) [pc]',
         textangle=-90, showarrow=False, xanchor='center', yanchor='middle', font=TITLE),
    dict(xref='paper', yref='paper', x=px(95), y=py(1061),
         text='1 + <i>\u03be</i>(<i>r</i> = 100pc)',
         textangle=-90, showarrow=False, xanchor='center', yanchor='middle', font=TITLE),
    dict(xref='paper', yref='paper', x=px(825), y=py(1526),
         text='<i>M</i><sub>\u22c6</sub> [<i>M</i><sub>\u2299</sub>]',
         showarrow=False, xanchor='center', yanchor='middle', font=TITLE),
    dict(xref='paper', yref='paper', x=px(2102), y=py(1528), text='sSFR [yr<sup>\u22121</sup>]',
         showarrow=False, xanchor='center', yanchor='middle', font=TITLE),
]

fig.update_layout(shapes=shapes, annotations=annotations)
fig.write_html('out.html')
